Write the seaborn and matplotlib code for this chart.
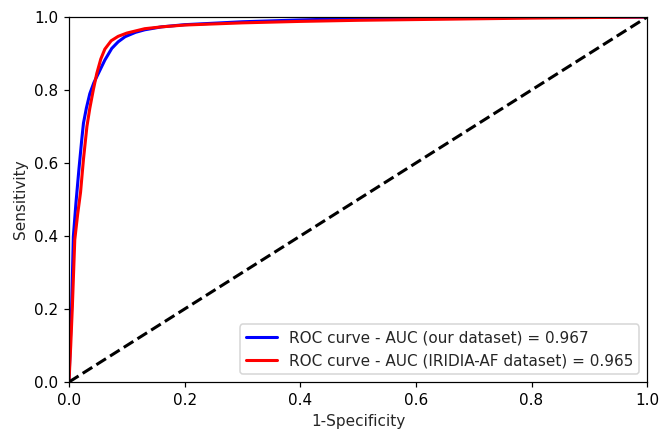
import pandas as pd
import matplotlib
matplotlib.use("Agg")
import matplotlib.pyplot as plt
import seaborn as sns

# ROC points
fpr_ours = [0.0, 0.002, 0.0046, 0.0075, 0.012, 0.017, 0.022, 0.025, 0.03, 0.036, 0.043, 0.051, 0.062,
            0.074, 0.085, 0.097, 0.115, 0.131, 0.16, 0.2, 0.3, 0.4, 0.5, 0.6, 0.8, 1.0]
tpr_ours = [0.0, 0.1, 0.206, 0.398, 0.49, 0.58, 0.663, 0.709, 0.75, 0.79, 0.82, 0.846, 0.882,
            0.914, 0.932, 0.946, 0.958, 0.965, 0.973, 0.979, 0.987, 0.992, 0.996, 0.998, 0.999, 1.0]

fpr_iridia = [0.0, 0.003, 0.0058, 0.010, 0.015, 0.02, 0.025, 0.031, 0.036, 0.042, 0.048, 0.055, 0.062,
              0.073, 0.085, 0.1, 0.131, 0.16, 0.2, 0.3, 0.4, 0.5, 0.6, 0.8, 1.0]
tpr_iridia = [0.0, 0.1, 0.206, 0.39, 0.46, 0.52, 0.61, 0.70, 0.75, 0.80, 0.845, 0.885, 0.912,
              0.935, 0.947, 0.956, 0.968, 0.973, 0.978, 0.984, 0.988, 0.991, 0.993, 0.997, 1.0]

auc_ours = 0.967
auc_iridia = 0.965

df_ours = pd.DataFrame({'fpr': fpr_ours, 'tpr': tpr_ours})
df_iridia = pd.DataFrame({'fpr': fpr_iridia, 'tpr': tpr_iridia})

sns.set_style("ticks")
plt.rcParams['font.family'] = ['DejaVu Sans']
fig = plt.figure(figsize=(659 / 110, 433 / 110), dpi=110)
ax = fig.add_axes([0.1047, 0.1178, 0.8773, 0.8429])

sns.lineplot(data=df_ours, x='fpr', y='tpr', sort=False, estimator=None, color='blue', lw=2,
             label='ROC curve - AUC (our dataset) = %0.3f' % auc_ours, ax=ax)
sns.lineplot(data=df_iridia, x='fpr', y='tpr', sort=False, estimator=None, color='red', lw=2,
             label='ROC curve - AUC (IRIDIA-AF dataset) = %0.3f' % auc_iridia, ax=ax)
ax.plot([0, 1], [0, 1], color='black', lw=2, linestyle='--')

ax.set_xlim(0, 1)
ax.set_ylim(0, 1)
ax.set_xlabel('1-Specificity', fontsize=10)
ax.set_ylabel('Sensitivity', fontsize=10)
ax.tick_params(labelsize=10, colors='black', length=3.5, width=0.8)
for s in ax.spines.values():
    s.set_color('black')
    s.set_linewidth(0.8)
ax.legend(loc='lower right', fontsize=10)

fig.savefig("out.png", dpi=110)
